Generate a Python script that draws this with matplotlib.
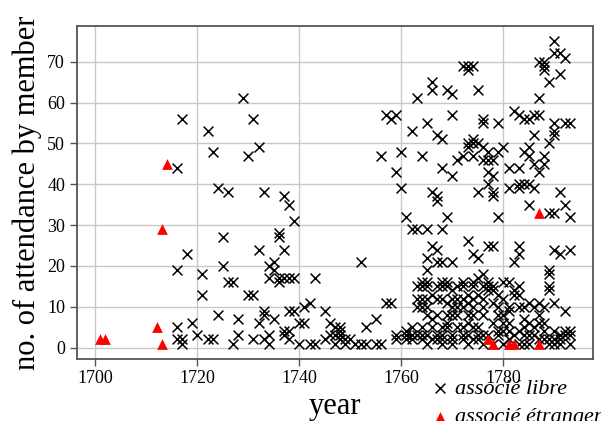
import matplotlib
matplotlib.use('Agg')
import matplotlib.pyplot as plt

# associé étranger (red triangles)
etranger_year = [1701, 1702, 1712, 1713, 1713, 1714, 1777, 1778, 1781, 1782, 1787, 1787]
etranger_count = [2, 2, 5, 29, 1, 45, 2, 1, 1, 1, 1, 33]

# associé libre (black crosses), as (year, attendance) pairs
libre_early = [
    (1716, 44), (1717, 56), (1722, 53), (1723, 48), (1724, 39), (1726, 38), (1729, 61),
    (1730, 47), (1731, 56), (1732, 49), (1733, 38), (1737, 37),
    (1716, 19), (1718, 23), (1725, 27), (1725, 20), (1721, 18), (1721, 13), (1726, 16),
    (1727, 16), (1724, 8), (1728, 7), (1716, 5), (1719, 6), (1720, 3), (1716, 2), (1717, 2),
    (1717, 1), (1722, 2), (1723, 2), (1728, 3), (1727, 1), (1731, 2),
]
libre_mid = [
    (1738, 35), (1739, 31), (1736, 28), (1736, 27), (1732, 24), (1737, 24), (1735, 21),
    (1734, 20), (1735, 19), (1734, 17), (1736, 17), (1736, 16), (1737, 17), (1738, 17),
    (1739, 17), (1743, 17), (1752, 21), (1730, 13), (1731, 13), (1757, 11), (1758, 11),
    (1733, 9), (1733, 8), (1738, 9), (1739, 9), (1741, 10), (1742, 11), (1745, 9),
    (1732, 6), (1735, 7), (1737, 4), (1738, 4), (1740, 6), (1741, 6), (1746, 6), (1747, 5),
    (1748, 5), (1748, 4), (1753, 5), (1755, 7), (1733, 2), (1734, 3), (1734, 1), (1737, 3),
    (1738, 2), (1740, 1), (1742, 1), (1743, 1), (1745, 2), (1746, 3), (1747, 3), (1748, 3),
    (1749, 2), (1750, 2), (1748, 2), (1747, 1), (1749, 1), (1751, 1), (1752, 1), (1753, 1),
    (1755, 1), (1756, 1), (1759, 2), (1761, 4), (1762, 5), (1762, 3), (1763, 3),
]
libre_late_high = [
    (1757, 57), (1758, 56), (1759, 57), (1762, 53), (1763, 61), (1756, 47), (1760, 48),
    (1759, 43), (1760, 39), (1764, 47),
    (1790, 75), (1790, 72), (1791, 72), (1792, 71), (1787, 70), (1788, 70), (1788, 69),
    (1788, 68), (1791, 67), (1789, 65), (1772, 69), (1773, 69), (1774, 69), (1773, 68),
    (1766, 65), (1766, 63), (1769, 63), (1770, 62), (1775, 63), (1787, 61), (1770, 57),
    (1765, 55), (1767, 52), (1768, 51), (1776, 56), (1776, 55), (1779, 55), (1782, 58),
    (1783, 57), (1784, 56), (1785, 56), (1786, 57), (1787, 57), (1790, 55), (1792, 55),
    (1793, 55), (1790, 53), (1790, 52), (1786, 52), (1789, 50), (1774, 51), (1774, 50),
    (1775, 50), (1773, 50), (1773, 49), (1776, 49), (1777, 48), (1780, 49), (1779, 48),
    (1768, 44), (1770, 42), (1771, 46), (1772, 47), (1774, 47), (1776, 46), (1777, 46),
    (1778, 46), (1777, 43), (1778, 42), (1781, 44), (1783, 44), (1784, 48), (1785, 49),
    (1785, 47), (1786, 45), (1787, 43), (1788, 47), (1788, 45), (1784, 40), (1783, 40),
    (1785, 40), (1781, 39), (1783, 39), (1786, 39), (1777, 40), (1791, 38), (1775, 38),
    (1778, 38), (1778, 37), (1766, 38), (1767, 37),
    (1792, 35), (1793, 32), (1790, 33), (1789, 33), (1785, 35), (1779, 32), (1769, 32),
    (1767, 36), (1761, 32),
    (1762, 29), (1763, 29), (1765, 29), (1768, 29), (1773, 26), (1777, 25), (1766, 25),
    (1767, 24), (1774, 23), (1775, 22), (1765, 22), (1767, 21), (1768, 21), (1770, 21),
    (1765, 19), (1776, 18), (1778, 25), (1783, 25), (1783, 23), (1782, 21), (1790, 24),
    (1791, 23), (1793, 24), (1789, 19), (1789, 18),
]
libre_late_low = [
    (1764, 16), (1765, 16), (1768, 16), (1769, 16), (1772, 16), (1774, 16), (1775, 17),
    (1777, 16), (1778, 15), (1780, 16), (1781, 16), (1763, 15), (1783, 15), (1789, 15),
    (1789, 14), (1782, 14), (1777, 14), (1779, 13), (1778, 14), (1782, 13), (1783, 13),
    (1790, 11), (1781, 10), (1783, 10), (1784, 10), (1785, 11), (1786, 10), (1788, 10),
    (1792, 9), (1787, 11), (1787, 8), (1779, 8), (1780, 8), (1780, 6), (1778, 6), (1781, 6),
    (1784, 7), (1785, 6), (1787, 6), (1788, 6), (1784, 5), (1786, 5),
    (1779, 4), (1780, 4), (1781, 4), (1783, 4), (1784, 3), (1785, 3), (1787, 2), (1788, 2),
    (1789, 2), (1790, 2), (1790, 4), (1791, 2), (1792, 4), (1793, 3), (1793, 4), (1792, 3),
    (1791, 3), (1778, 1), (1780, 1), (1783, 1), (1784, 1), (1785, 1), (1789, 1), (1790, 1),
    (1791, 1), (1793, 1),
    (1764, 15), (1765, 15), (1767, 15), (1768, 15), (1769, 15), (1771, 15), (1772, 15),
    (1774, 15), (1776, 15), (1777, 15),
    (1763, 12), (1764, 12), (1765, 12), (1767, 12), (1768, 12), (1770, 12), (1771, 12),
    (1772, 12), (1774, 12), (1776, 12),
    (1763, 10), (1764, 10), (1765, 10), (1770, 10), (1771, 10), (1772, 10), (1774, 10),
    (1776, 10),
    (1765, 8), (1767, 8), (1769, 8), (1770, 8), (1771, 8), (1773, 8), (1774, 8), (1776, 8),
    (1764, 5), (1766, 5), (1768, 5), (1769, 5), (1771, 5), (1772, 5), (1774, 5), (1775, 5),
    (1759, 3), (1761, 3), (1764, 3), (1765, 3), (1767, 3), (1768, 3), (1770, 3), (1772, 3),
    (1773, 3), (1775, 3), (1776, 3), (1777, 3),
    (1761, 2), (1762, 2), (1764, 2), (1766, 2), (1767, 2), (1768, 2), (1770, 2), (1772, 2),
    (1774, 2), (1775, 2),
    (1765, 1), (1768, 1), (1770, 1), (1773, 1), (1776, 1),
    (1766, 7), (1769, 6), (1773, 6), (1766, 13), (1770, 14), (1773, 13), (1775, 13),
    (1769, 11), (1773, 11), (1778, 11), (1779, 10), (1780, 12), (1781, 9), (1779, 3),
    (1781, 2), (1782, 3), (1786, 3), (1788, 4),
]

libre = libre_early + libre_mid + libre_late_high + libre_late_low
libre_year = [p[0] for p in libre]
libre_count = [p[1] for p in libre]

plt.rcParams['font.family'] = ['Liberation Serif', 'DejaVu Serif']

fig = plt.figure(figsize=(6.01, 4.21), dpi=100)
ax = fig.add_axes([0.128, 0.148, 0.859, 0.790])

ax.scatter(libre_year, libre_count, marker='x', s=50, c='black', linewidths=1.1,
           label='associé libre', zorder=3)
ax.scatter(etranger_year, etranger_count, marker='^', s=60, c='red', linewidths=0,
           label='associé étranger', zorder=4)

ax.set_xlim(1696.4, 1797.6)
ax.set_ylim(-2.7, 78.7)
ax.set_xticks([1700, 1720, 1740, 1760, 1780])
ax.set_yticks(range(0, 71, 10))
ax.grid(True, color='#c8c8c8', linewidth=1)
ax.set_axisbelow(True)
for s in ax.spines.values():
    s.set_color('#555555')
    s.set_linewidth(1.3)
ax.tick_params(labelsize=13, color='#555555', length=5, width=1)

ax.set_xlabel('year', fontsize=22, labelpad=3)
ax.set_ylabel('no. of attendance by member', fontsize=22, labelpad=4)

# legend sits below the axes and runs past the figure's bottom edge, as in the source
fig.legend(loc='upper left', bbox_to_anchor=(0.699, 0.122), frameon=False,
           prop={'style': 'italic', 'size': 16}, handletextpad=0.15,
           handlelength=1.0, labelspacing=0.35, borderaxespad=0)

fig.savefig('out.png', dpi=100)
